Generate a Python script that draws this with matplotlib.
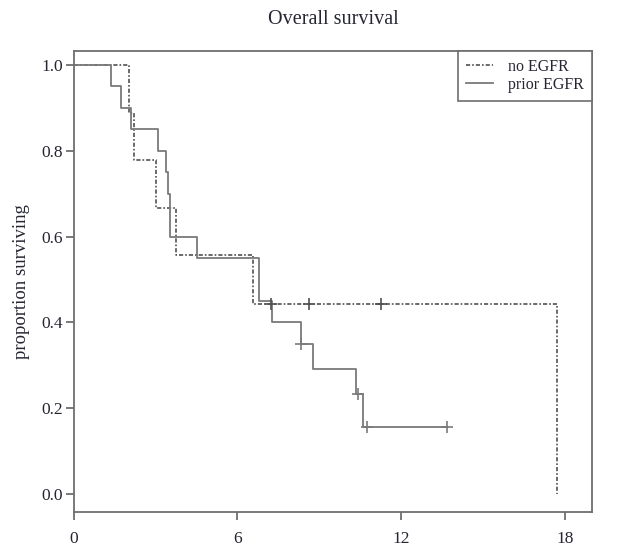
import numpy as np
import matplotlib
matplotlib.use("Agg")
import matplotlib.pyplot as plt

# Kaplan-Meier step data (months, proportion surviving)
prior_times = [0, 1.36, 1.73, 2.09, 3.08, 3.38, 3.45, 3.53, 4.51, 6.79, 7.26, 8.32, 8.77, 10.35, 10.6, 13.68]
prior_surv = [1.0, 0.95, 0.90, 0.85, 0.80, 0.75, 0.70, 0.60, 0.55, 0.45, 0.40, 0.35, 0.2917, 0.2333, 0.1556, 0.1556]
prior_censor = [8.32, 10.40, 10.74, 13.68]

noegfr_times = [0, 2.03, 2.21, 3.0, 3.74, 6.58, 17.7]
noegfr_surv = [1.0, 0.889, 0.778, 0.667, 0.556, 0.444, 0.0]
noegfr_censor = [7.24, 8.62, 11.26]

xticks = [0, 6, 12, 18]
yticks = [0.0, 0.2, 0.4, 0.6, 0.8, 1.0]

plt.rcParams['font.family'] = ['Liberation Serif', 'DejaVu Serif']
txt = '#262633'
grey = '#6e6e6e'


def step_at(times, surv, t):
    idx = np.searchsorted(times, t, side='right') - 1
    return np.array(surv)[idx]


fig = plt.figure(figsize=(6.28, 5.59), dpi=100)
ax = fig.add_axes([73.7 / 628, 1 - 511.7 / 559, (592.3 - 73.7) / 628, (511.7 - 50.7) / 559])

ax.step(noegfr_times, noegfr_surv, where='post', color='#505050', lw=1.2,
        linestyle=(0, (2.5, 1.2, 1, 1.2)), label='no EGFR')
ax.step(prior_times, prior_surv, where='post', color='#7a7a7a', lw=1.3,
        label='prior EGFR')

ax.plot(noegfr_censor, step_at(noegfr_times, noegfr_surv, noegfr_censor), ls='none',
        marker='+', ms=8, mew=1.2, color='#505050')
ax.plot(prior_censor, step_at(prior_times, prior_surv, prior_censor), ls='none',
        marker='+', ms=8, mew=1.2, color='#7a7a7a')

ax.set_xlim(0, 19.0)
ax.set_ylim(-0.041, 1.033)
ax.set_xticks(xticks)
ax.set_yticks(yticks)
ax.set_yticklabels([f"{v:.1f}" for v in yticks])

for sp in ax.spines.values():
    sp.set_color(grey)
    sp.set_linewidth(1.3)
ax.tick_params(direction='out', length=6, width=1.3, color=grey, labelcolor=txt,
               labelsize=12.5)
ax.tick_params(axis='x', pad=8)
ax.tick_params(axis='y', pad=2)

ax.set_title('Overall survival', fontsize=14.5, color=txt, pad=19)
ax.set_ylabel('proportion surviving', fontsize=13.5, color=txt, labelpad=8)

leg = ax.legend(loc='upper right', borderaxespad=0, fancybox=False, framealpha=1,
                edgecolor=grey, fontsize=11.5, handlelength=1.7, handletextpad=0.95,
                labelspacing=0.15, borderpad=0.5)
leg.get_frame().set_linewidth(1.2)
for t in leg.get_texts():
    t.set_color(txt)

fig.savefig('out.png', dpi=100)
